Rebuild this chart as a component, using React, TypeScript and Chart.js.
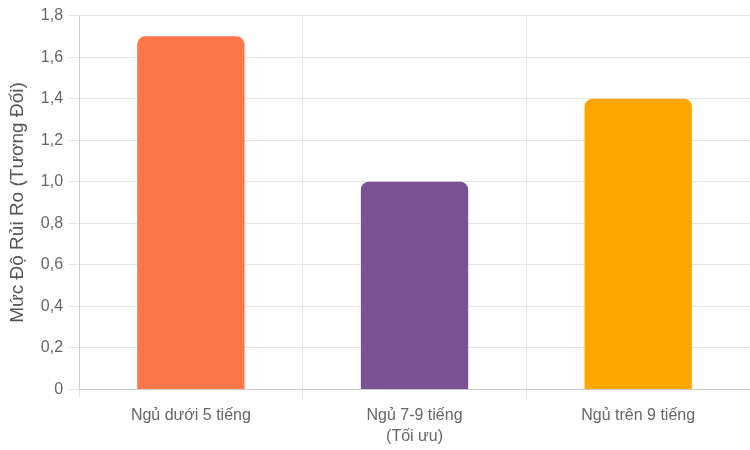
import React, { useEffect, useRef } from "react";
import { Chart, registerables } from "chart.js";

Chart.register(...registerables);

const categories: (string | string[])[] = [
  "Ngủ dưới 5 tiếng",
  ["Ngủ 7-9 tiếng", "(Tối ưu)"],
  "Ngủ trên 9 tiếng",
];
const riskValues = [1.7, 1.0, 1.4];
const barColors = ["#ff764a", "#7a5195", "#ffa600"];
const yTitle = "Mức Độ Rủi Ro (Tương Đối)";

export default function App() {
  const ref = useRef<HTMLCanvasElement | null>(null);
  useEffect(() => {
    if (!ref.current) return;
    Chart.defaults.font.family = "'Liberation Sans', Arial, sans-serif";
    Chart.defaults.color = "#666";
    const chart = new Chart(ref.current, {
      type: "bar",
      data: {
        labels: categories,
        datasets: [
          {
            data: riskValues,
            backgroundColor: barColors,
            borderRadius: { topLeft: 8, topRight: 8 },
            borderSkipped: false,
            barPercentage: 0.6,
            categoryPercentage: 0.8,
          },
        ],
      },
      options: {
        responsive: true,
        maintainAspectRatio: false,
        animation: false,
        layout: { padding: { left: 2, top: 5, right: 0, bottom: -5 } },
        plugins: { legend: { display: false }, tooltip: { enabled: false } },
        scales: {
          x: {
            ticks: { font: { size: 16, lineHeight: 1.3 }, color: "#666", padding: 8 },
            grid: { color: "#e5e5e5", tickLength: 8 },
          },
          y: {
            min: 0,
            max: 1.8,
            ticks: {
              stepSize: 0.2,
              font: { size: 16 },
              color: "#666",
              padding: 6,
              callback: (v: any) =>
                Number(v).toLocaleString("vi-VN", {
                  maximumFractionDigits: 1,
                  minimumFractionDigits: Number(v) === 0 ? 0 : 1,
                }),
            },
            grid: { color: "#e5e5e5", tickLength: 10 },
            title: {
              display: true,
              text: yTitle,
              font: { size: 19 },
              color: "#555",
              padding: { top: 4, bottom: 6 },
            },
          },
        },
      },
    });
    return () => chart.destroy();
  }, []);
  return (
    <div style={{ position: "absolute", left: 0, top: 0, width: 750, height: 450 }}>
      <canvas ref={ref} />
    </div>
  );
}
